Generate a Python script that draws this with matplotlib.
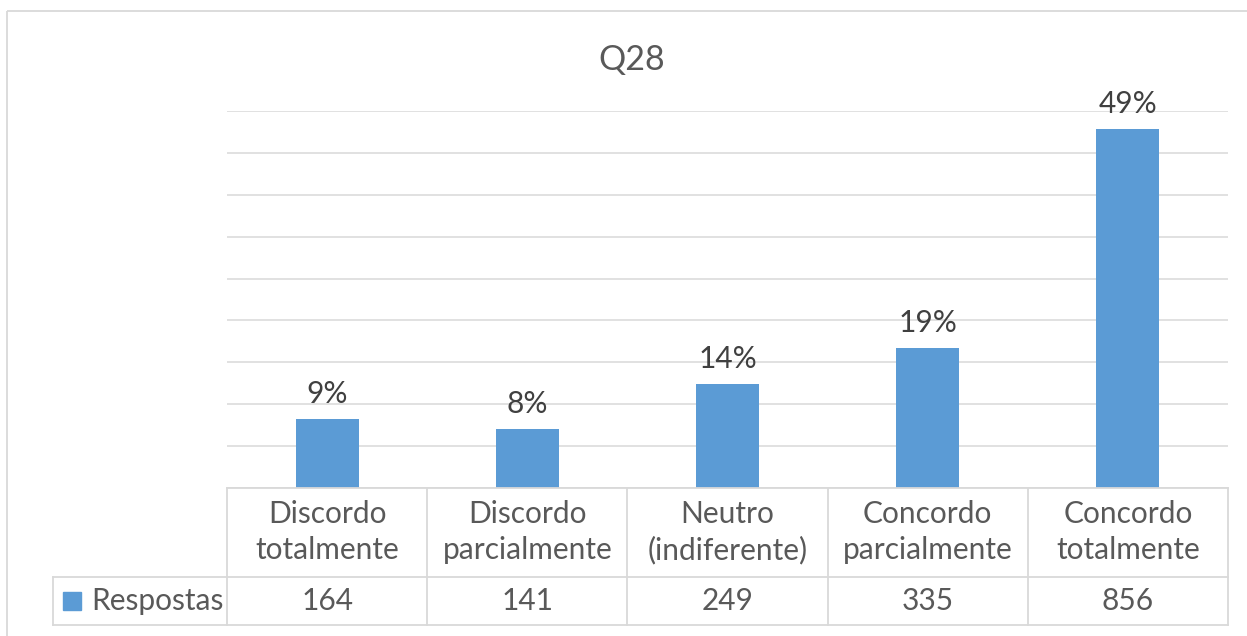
import matplotlib
matplotlib.use("Agg")
import matplotlib.pyplot as plt
from matplotlib.transforms import Affine2D, blended_transform_factory
from matplotlib.patches import Rectangle
from matplotlib.lines import Line2D

plt.rcParams['font.family'] = ['Lato', 'DejaVu Sans']

title = "Q28"
categories = ["Discordo\ntotalmente", "Discordo\nparcialmente", "Neutro\n(indiferente)",
              "Concordo\nparcialmente", "Concordo\ntotalmente"]
values = [164, 141, 249, 335, 856]
series_name = "Respostas"
y_ticks = [0, 100, 200, 300, 400, 500, 600, 700, 800, 900]

W, H = 1247, 636
BAR = "#5B9BD5"
GRID = "#D9D9D9"
TXT = "#595959"
LBL = "#404040"
FS = 21.5

fig = plt.figure(figsize=(W / 100, H / 100), dpi=100)
px = Affine2D().scale(1 / W, -1 / H).translate(0, 1) + fig.transFigure

# outer chart border
fig.add_artist(Rectangle((7, 11), 1300, 700, transform=px, fill=False,
                         edgecolor=GRID, lw=1.3))

ax_l, ax_r, ax_t, ax_b = 227, 1228, 111, 488
ax = fig.add_axes([ax_l / W, 1 - ax_b / H, (ax_r - ax_l) / W, (ax_b - ax_t) / H])
x = list(range(len(categories)))
ax.bar(x, values, width=0.315, color=BAR, zorder=3)
ax.set_xlim(-0.5, len(categories) - 0.5)
ax.set_ylim(0, 900)
ax.set_yticks(y_ticks)
ax.yaxis.grid(True, color=GRID, lw=1.1, zorder=0)
ax.tick_params(left=False, labelleft=False, bottom=False, labelbottom=False)
for s in ax.spines.values():
    s.set_visible(False)

total = sum(values)
for xi, v in zip(x, values):
    ax.annotate(f"{round(100 * v / total)}%", (xi, v), xytext=(0, 8),
                textcoords="offset points", ha="center", va="bottom",
                fontsize=FS, color=LBL)

fig.text(632 / W, 1 - 60 / H, title, ha="center", va="center", fontsize=24.5, color=TXT)

# data table
tr = blended_transform_factory(ax.transData, px)
row1_top, row1_bot, row2_bot = 488, 577, 625
lw = 1.3
for i in range(len(categories) + 1):
    xe = i - 0.5
    fig.add_artist(Line2D([xe, xe], [row1_top, row2_bot], transform=tr, color=GRID, lw=lw))
for yy in (row1_top, row1_bot, row2_bot):
    fig.add_artist(Line2D([-0.5, len(categories) - 0.5], [yy, yy], transform=tr, color=GRID, lw=lw))
fig.add_artist(Line2D([53, ax_l], [row1_bot, row1_bot], transform=px, color=GRID, lw=lw))
fig.add_artist(Line2D([53, ax_l], [row2_bot, row2_bot], transform=px, color=GRID, lw=lw))
fig.add_artist(Line2D([53, 53], [row1_bot, row2_bot], transform=px, color=GRID, lw=lw))

for xi, c, v in zip(x, categories, values):
    fig.text(xi, 532, c, transform=tr, ha="center", va="center", fontsize=FS,
             color=TXT, linespacing=1.35)
    fig.text(xi, 601, str(v), transform=tr, ha="center", va="center", fontsize=FS, color=TXT)

fig.add_artist(Rectangle((63, 592), 18, 18, transform=px, color=BAR))
fig.text(91 / W, 1 - 601 / H, series_name, ha="left", va="center", fontsize=FS, color=TXT)

fig.savefig("out.png", dpi=100)
